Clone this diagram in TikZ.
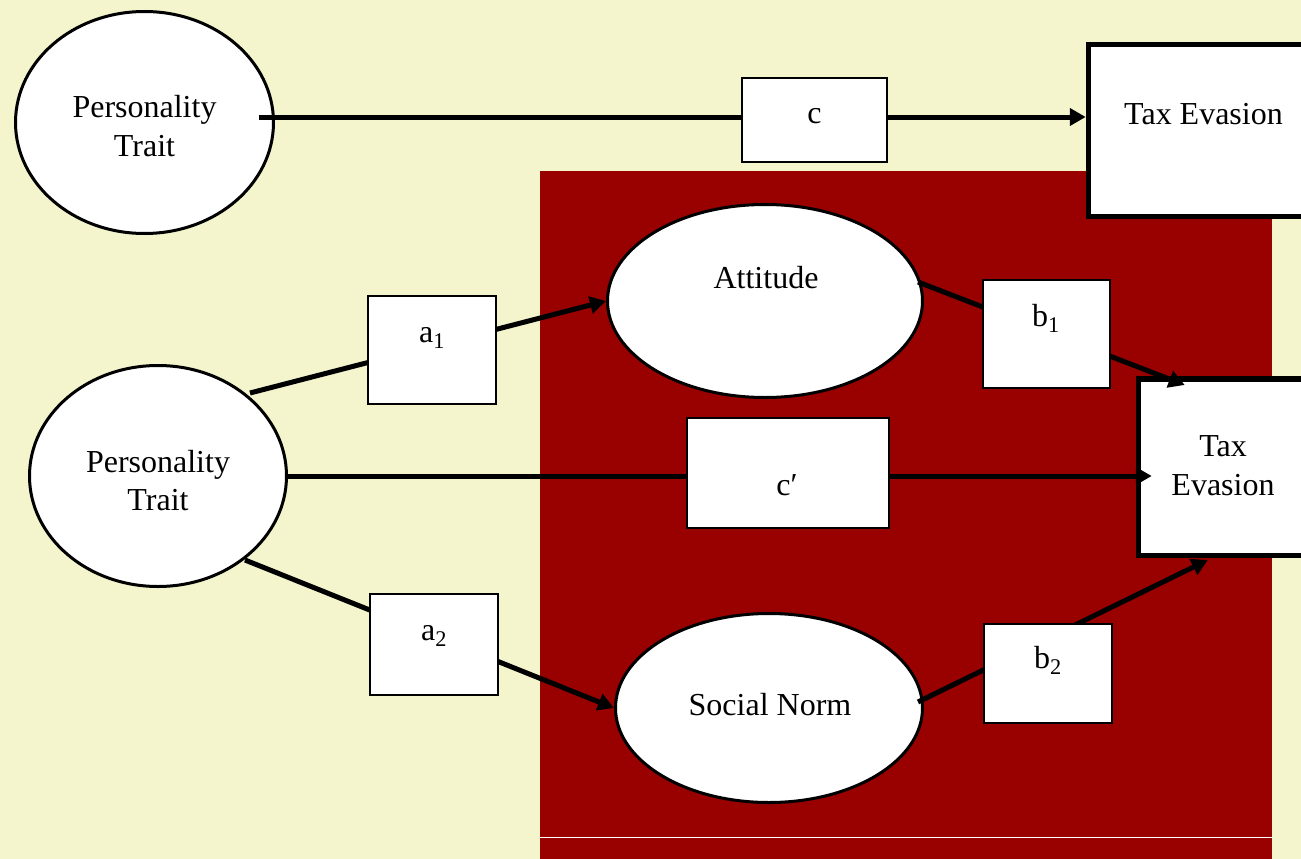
\documentclass[tikz,border=0pt]{standalone}
\usepackage{fontspec}
\setmainfont{Liberation Serif}
\usetikzlibrary{shapes.geometric,arrows.meta,calc}
\definecolor{bgyellow}{RGB}{244,245,205}
\definecolor{panelred}{RGB}{153,0,0}
\pgfdeclarelayer{back}
\pgfdeclarelayer{lines}
\pgfdeclarelayer{front}
\pgfsetlayers{back,main,lines,front}
\begin{document}
\begin{tikzpicture}[x=1pt,y=-1pt,
  every node/.style={inner sep=0pt},
  oval/.style={ellipse, draw, line width=3pt, fill=white},
  coef/.style={rectangle, draw, line width=2.3pt, fill=white},
  outcome/.style={rectangle, draw, line width=5.5pt, fill=white},
  txt/.style={font=\fontsize{32}{38.5}\selectfont, align=center},
  conn/.style={line width=5pt, -{Triangle[length=16pt,width=17pt]}}]

\useasboundingbox (0,0) rectangle (1301,859);

\begin{pgfonlayer}{back}
  \fill[bgyellow] (0,0) rectangle (1301,859);
  \fill[panelred] (540,171) rectangle (1272,859);
  \fill[white] (540,836.5) rectangle (1272,837.7);
\end{pgfonlayer}

% ellipses and outcome boxes
\node[oval, minimum width=258pt, minimum height=222pt] (pt1) at (144.5,122.5) {};
\node[oval, minimum width=257pt, minimum height=221pt] (pt2) at (158,476) {};
\node[oval, minimum width=315pt, minimum height=193pt] (att) at (765,301) {};
\node[oval, minimum width=307pt, minimum height=189pt] (sn) at (769,708) {};
\node[outcome, minimum width=251.5pt, minimum height=171.5pt] (te1) at (1214.25,130.5) {};
\node[outcome, minimum width=201.5pt, minimum height=176.5pt] (te2) at (1239.25,467) {};

\node[txt] (pt1t) at (144.5,126.3) {Personality\\Trait};
\node[txt] (pt2t) at (158,480.3) {Personality\\Trait};
\node[txt, anchor=base] (attt) at (766,288) {Attitude};
\node[txt, anchor=base] (snt) at (770,715) {Social Norm};
\node[txt, anchor=base] (te1t) at (1203.5,124) {Tax Evasion};
\node[txt] (te2t) at (1223,465.9) {Tax\\Evasion};

% connectors
\begin{pgfonlayer}{lines}
  \draw[conn] ($(pt1.center)+(114.5,-5.5)$) -- ($(te1.west)+(0,-13.5)$);
  \draw[conn] ($(pt2.center)+(92,-83)$) -- (att.west);
  \draw[conn] ($(pt2.center)+(87,84)$) -- (sn.west);
  \draw[conn] (pt2.east) -- ($(pt2.east -| te2.west)+(16,0)$);
  \draw[conn] ($(att.center)+(153,-19)$) -- ($(te2.north west)+(49,9)$);
  \draw[conn] ($(sn.center)+(149,-6)$) -- ($(te2.south west)+(72,2)$);
\end{pgfonlayer}

% coefficient boxes
\begin{pgfonlayer}{front}
  \node[coef, minimum width=145pt, minimum height=84pt] (c) at (814.5,120) {};
  \node[coef, minimum width=128pt, minimum height=108pt] (a1) at (432,350) {};
  \node[coef, minimum width=128pt, minimum height=101pt] (a2) at (434,644.5) {};
  \node[coef, minimum width=127pt, minimum height=108pt] (b1) at (1046.5,334) {};
  \node[coef, minimum width=128pt, minimum height=99pt] (b2) at (1048,673.5) {};
  \node[coef, minimum width=202pt, minimum height=110pt] (cp) at (788,473) {};

  \node[txt, anchor=base] (ct) at (814.5,123) {c};
  \node[txt, anchor=base] (a1t) at (432,342) {a\textsubscript{1}};
  \node[txt, anchor=base] (a2t) at (434,640) {a\textsubscript{2}};
  \node[txt, anchor=base] (b1t) at (1046,326) {b\textsubscript{1}};
  \node[txt, anchor=base] (b2t) at (1048,668) {b\textsubscript{2}};
  \node[txt, anchor=base] (cpt) at (787,495) {c′};
\end{pgfonlayer}
\end{tikzpicture}
\end{document}
